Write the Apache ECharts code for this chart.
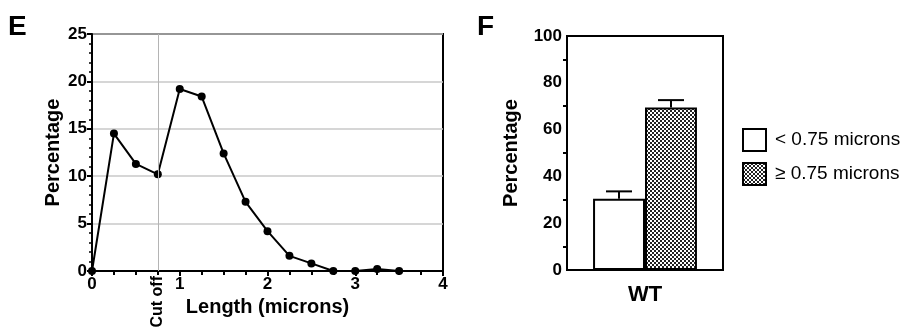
<!DOCTYPE html>
<html>
<head>
<meta charset="utf-8">
<script src="https://cdn.jsdelivr.net/npm/echarts@6/dist/echarts.min.js"></script>
<style>
  html, body { margin: 0; padding: 0; background: #fff; }
  #chart { width: 905px; height: 329px; }
</style>
</head>
<body>
<div id="chart"></div>
<script>
// panel E: length distribution
const lengthX = [0, 0.25, 0.5, 0.75, 1, 1.25, 1.5, 1.75, 2, 2.25, 2.5, 2.75, 3, 3.25, 3.5]
const lengthPct = [0, 14.5, 11.3, 10.2, 19.2, 18.4, 12.4, 7.3, 4.2, 1.6, 0.8, 0, 0, 0.2, 0]
const cutOff = 0.75

// panel F: WT split by cut off
const groups = ['WT']
const shortPct = [30.5]
const shortErr = [33.6]
const longPct = [69.4]
const longErr = [72.6]

const font = '"Liberation Sans", Arial, sans-serif'

// checkered fill for the >= 0.75 bar
const tile = document.createElement('canvas')
tile.width = 4
tile.height = 4
const ctx = tile.getContext('2d')
ctx.fillStyle = '#fff'
ctx.fillRect(0, 0, 4, 4)
ctx.fillStyle = '#222'
ctx.fillRect(0, 0, 2, 2)
ctx.fillRect(2, 2, 2, 2)
const checker = { image: tile, repeat: 'repeat' }

const tickLabel = { color: '#000', fontFamily: font, fontWeight: 'bold', fontSize: 17 }
const nameStyle = { color: '#000', fontFamily: font, fontWeight: 'bold', fontSize: 20 }
const blackLine = { lineStyle: { color: '#000', width: 2 } }

const chart = echarts.init(document.getElementById('chart'))

function errorBar(params, api) {
  const i = params.seriesIndex === 3 ? 0 : 1
  const bandW = api.size([1, 0])[0]
  const barW = bandW / 3
  const base = api.coord([api.value(0), api.value(1)])
  const top = api.coord([api.value(0), api.value(2)])
  const cx = base[0] + (i === 0 ? -barW / 2 : barW / 2)
  const half = barW / 4
  const style = { stroke: '#000', lineWidth: 2 }
  return {
    type: 'group',
    children: [
      { type: 'line', shape: { x1: cx, y1: base[1], x2: cx, y2: top[1] }, style },
      { type: 'line', shape: { x1: cx - half, y1: top[1], x2: cx + half, y2: top[1] }, style }
    ]
  }
}

chart.setOption({
  animation: false,
  textStyle: { fontFamily: font },
  grid: [
    { left: 92, right: 462, top: 34, bottom: 58, show: true, borderColor: '#000', borderWidth: 2 },
    { left: 567, right: 182, top: 36, bottom: 59, show: true, borderColor: '#000', borderWidth: 2 }
  ],
  xAxis: [
    {
      gridIndex: 0, type: 'value', min: 0, max: 4, interval: 1,
      name: 'Length (microns)', nameLocation: 'middle', nameGap: 23, nameTextStyle: nameStyle,
      axisLine: blackLine,
      axisTick: { length: 5, lineStyle: { color: '#000', width: 2 } },
      minorTick: { show: true, splitNumber: 4, length: 4, lineStyle: { color: '#000', width: 2 } },
      axisLabel: Object.assign({ margin: 5 }, tickLabel),
      splitLine: { show: false }
    },
    {
      gridIndex: 1, type: 'category', data: groups,
      axisLine: blackLine, axisTick: { show: false },
      axisLabel: { color: '#000', fontFamily: font, fontWeight: 'bold', fontSize: 22, margin: 14 }
    }
  ],
  yAxis: [
    {
      gridIndex: 0, type: 'value', min: 0, max: 25, interval: 5,
      name: 'Percentage', nameLocation: 'middle', nameGap: 29, nameTextStyle: nameStyle,
      axisLine: blackLine,
      axisTick: { length: 5, lineStyle: { color: '#000', width: 2 } },
      minorTick: { show: true, splitNumber: 5, length: 3, lineStyle: { color: '#000', width: 1.5 } },
      axisLabel: Object.assign({ margin: 5 }, tickLabel),
      splitLine: { show: true, lineStyle: { color: '#c8c8c8', width: 1.5 } }
    },
    {
      gridIndex: 1, type: 'value', min: 0, max: 100, interval: 20,
      name: 'Percentage', nameLocation: 'middle', nameGap: 46, nameTextStyle: nameStyle,
      axisLine: blackLine,
      axisTick: { length: 6, lineStyle: { color: '#000', width: 2 } },
      minorTick: { show: true, splitNumber: 2, length: 4, lineStyle: { color: '#000', width: 2 } },
      axisLabel: Object.assign({ margin: 5 }, tickLabel),
      splitLine: { show: false }
    }
  ],
  legend: {
    orient: 'vertical', left: 737, top: 123, itemGap: 10,
    itemWidth: 23, itemHeight: 22, icon: 'rect',
    itemStyle: { borderColor: '#000', borderWidth: 2 },
    textStyle: { color: '#000', fontFamily: font, fontSize: 19, padding: [0, 0, 0, 4] },
    data: ['< 0.75 microns', '≥ 0.75 microns']
  },
  series: [
    {
      type: 'line', xAxisIndex: 0, yAxisIndex: 0,
      data: lengthX.map((x, i) => [x, lengthPct[i]]),
      symbol: 'circle', symbolSize: 8,
      lineStyle: { color: '#000', width: 2 },
      itemStyle: { color: '#000' },
      markLine: {
        silent: true, symbol: 'none', label: { show: false },
        lineStyle: { color: '#b4b4b4', width: 1, type: 'solid' },
        data: [{ xAxis: cutOff }]
      }
    },
    {
      name: '< 0.75 microns', type: 'bar', xAxisIndex: 1, yAxisIndex: 1,
      data: shortPct, barWidth: '33.3%', barGap: '0%',
      itemStyle: { color: '#fff', borderColor: '#000', borderWidth: 2 }
    },
    {
      name: '≥ 0.75 microns', type: 'bar', xAxisIndex: 1, yAxisIndex: 1,
      data: longPct, barWidth: '33.3%', barGap: '0%',
      itemStyle: { color: checker, borderColor: '#000', borderWidth: 2 }
    },
    {
      type: 'custom', xAxisIndex: 1, yAxisIndex: 1, z: 1,
      data: groups.map((g, i) => [i, shortPct[i], shortErr[i]]),
      renderItem: errorBar
    },
    {
      type: 'custom', xAxisIndex: 1, yAxisIndex: 1, z: 1,
      data: groups.map((g, i) => [i, longPct[i], longErr[i]]),
      renderItem: errorBar
    }
  ]
})

// panel letters and the rotated "Cut off" label under the axis
const cutPos = chart.convertToPixel({ gridIndex: 0 }, [cutOff, 0])
chart.setOption({
  graphic: [
    { type: 'text', left: 8, top: 13, style: { text: 'E', fontFamily: font, fontWeight: 'bold', fontSize: 28, fill: '#000' } },
    { type: 'text', left: 477, top: 13, style: { text: 'F', fontFamily: font, fontWeight: 'bold', fontSize: 28, fill: '#000' } },
    {
      type: 'text', x: cutPos[0], y: cutPos[1] + 5, rotation: Math.PI / 2,
      style: { text: 'Cut off', fontFamily: font, fontWeight: 'bold', fontSize: 16, fill: '#000', align: 'right', verticalAlign: 'middle' }
    }
  ]
})
</script>
</body>
</html>
